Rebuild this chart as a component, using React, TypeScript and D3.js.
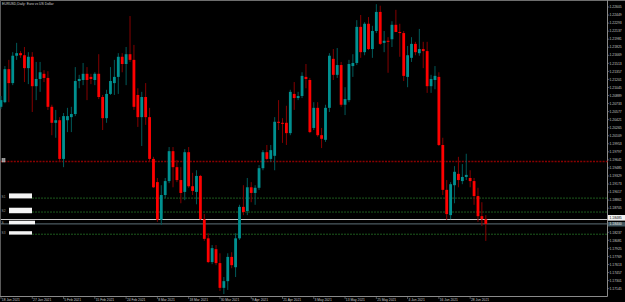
import React from 'react';
import * as d3 from 'd3';

const TITLE = 'EURUSD,Daily: Euro vs US Dollar';

const OPEN = [
  1.2067, 1.2076, 1.2140, 1.2113, 1.2166, 1.2171, 1.2167, 1.2142, 1.2164, 1.2107,
  1.2121, 1.2131, 1.2123, 1.2067, 1.2036, 1.2041, 1.1966, 1.2041, 1.2047, 1.2053,
  1.2117, 1.2119, 1.2131, 1.2125, 1.2119, 1.2131, 1.2086, 1.2045, 1.2092, 1.2113,
  1.2125, 1.2164, 1.2150, 1.2169, 1.2158, 1.2090, 1.2047, 1.2086, 1.2047, 1.1966,
  1.1921, 1.1848, 1.1896, 1.1923, 1.1981, 1.1950, 1.1925, 1.1902, 1.1979, 1.1913,
  1.1902, 1.1933, 1.1849, 1.1812, 1.1766, 1.1791, 1.1764, 1.1716, 1.1729, 1.1776,
  1.1756, 1.1812, 1.1873, 1.1865, 1.1911, 1.1900, 1.1910, 1.1948, 1.1979, 1.1966,
  1.1972, 1.2038, 1.2036, 1.2036, 1.2016, 1.2092, 1.2084, 1.2088, 1.2125, 1.2119,
  1.2026, 1.2065, 1.2012, 1.2003, 1.2065, 1.2160, 1.2129, 1.2148, 1.2071, 1.2080,
  1.2146, 1.2152, 1.2222, 1.2173, 1.2228, 1.2179, 1.2214, 1.2251, 1.2191, 1.2195,
  1.2198, 1.2226, 1.2212, 1.2210, 1.2125, 1.2162, 1.2189, 1.2171, 1.2179, 1.2175,
  1.2107, 1.2119, 1.2125, 1.1993, 1.1906, 1.1857, 1.1915, 1.1937, 1.1923, 1.1931,
  1.1929, 1.1923, 1.1894, 1.1855, 1.1849,
];
const HIGH = [
  1.2088, 1.2146, 1.2158, 1.2173, 1.2191, 1.2175, 1.2183, 1.2173, 1.2173, 1.2154,
  1.2154, 1.2138, 1.2136, 1.2071, 1.2061, 1.2047, 1.2055, 1.2065, 1.2067, 1.2144,
  1.2129, 1.2152, 1.2144, 1.2131, 1.2134, 1.2169, 1.2090, 1.2100, 1.2144, 1.2158,
  1.2171, 1.2171, 1.2183, 1.2243, 1.2187, 1.2103, 1.2096, 1.2113, 1.2065, 1.1970,
  1.1929, 1.1915, 1.1929, 1.1989, 1.1989, 1.1964, 1.1950, 1.1985, 1.1989, 1.1939,
  1.1944, 1.1935, 1.1859, 1.1822, 1.1799, 1.1799, 1.1783, 1.1737, 1.1783, 1.1785,
  1.1822, 1.1877, 1.1915, 1.1929, 1.1921, 1.1915, 1.1954, 1.1983, 1.1993, 1.1993,
  1.2047, 1.2080, 1.2045, 1.2069, 1.2100, 1.2115, 1.2096, 1.2134, 1.2150, 1.2123,
  1.2076, 1.2076, 1.2026, 1.2071, 1.2171, 1.2179, 1.2181, 1.2154, 1.2105, 1.2158,
  1.2169, 1.2235, 1.2245, 1.2231, 1.2241, 1.2224, 1.2266, 1.2263, 1.2214, 1.2202,
  1.2233, 1.2255, 1.2228, 1.2214, 1.2185, 1.2202, 1.2193, 1.2218, 1.2193, 1.2193,
  1.2129, 1.2146, 1.2134, 1.2007, 1.1925, 1.1921, 1.1952, 1.1970, 1.1956, 1.1976,
  1.1944, 1.1929, 1.1910, 1.1882, 1.1857,
];
const LOW = [
  1.2063, 1.2074, 1.2076, 1.2109, 1.2158, 1.2162, 1.2115, 1.2111, 1.2057, 1.2080,
  1.2096, 1.2115, 1.2061, 1.2012, 1.2007, 1.1960, 1.1950, 1.2018, 1.2018, 1.2049,
  1.2103, 1.2109, 1.2080, 1.2111, 1.2109, 1.2082, 1.2022, 1.2036, 1.2090, 1.2090,
  1.2092, 1.2134, 1.2109, 1.2154, 1.2061, 1.2028, 1.1991, 1.2032, 1.1960, 1.1910,
  1.1844, 1.1838, 1.1890, 1.1919, 1.1911, 1.1921, 1.1880, 1.1886, 1.1910, 1.1896,
  1.1878, 1.1848, 1.1807, 1.1764, 1.1762, 1.1760, 1.1710, 1.1704, 1.1712, 1.1754,
  1.1737, 1.1809, 1.1857, 1.1857, 1.1882, 1.1877, 1.1906, 1.1944, 1.1964, 1.1960,
  1.1944, 1.2022, 1.1997, 1.1993, 1.2012, 1.2061, 1.2080, 1.2084, 1.2103, 1.2016,
  1.2022, 1.2009, 1.1987, 1.1999, 1.2057, 1.2119, 1.2123, 1.2067, 1.2051, 1.2076,
  1.2125, 1.2148, 1.2162, 1.2167, 1.2177, 1.2162, 1.2210, 1.2187, 1.2173, 1.2133,
  1.2183, 1.2212, 1.2164, 1.2117, 1.2105, 1.2154, 1.2167, 1.2166, 1.2142, 1.2094,
  1.2094, 1.2101, 1.1991, 1.1896, 1.1848, 1.1849, 1.1880, 1.1911, 1.1917, 1.1925,
  1.1911, 1.1877, 1.1844, 1.1836, 1.1807,
];
const CLOSE = [
  1.2080, 1.2140, 1.2113, 1.2166, 1.2171, 1.2167, 1.2142, 1.2164, 1.2107, 1.2121,
  1.2134, 1.2123, 1.2067, 1.2036, 1.2041, 1.1966, 1.2049, 1.2049, 1.2053, 1.2117,
  1.2121, 1.2131, 1.2119, 1.2121, 1.2131, 1.2086, 1.2045, 1.2092, 1.2117, 1.2125,
  1.2164, 1.2150, 1.2169, 1.2158, 1.2067, 1.2047, 1.2086, 1.2047, 1.1966, 1.1911,
  1.1848, 1.1896, 1.1923, 1.1981, 1.1950, 1.1925, 1.1900, 1.1979, 1.1913, 1.1904,
  1.1933, 1.1849, 1.1811, 1.1766, 1.1793, 1.1764, 1.1716, 1.1729, 1.1776, 1.1760,
  1.1812, 1.1873, 1.1863, 1.1911, 1.1900, 1.1910, 1.1948, 1.1979, 1.1966, 1.1983,
  1.2038, 1.2036, 1.2034, 1.2016, 1.2096, 1.2084, 1.2088, 1.2127, 1.2121, 1.2018,
  1.2065, 1.2012, 1.2005, 1.2065, 1.2166, 1.2129, 1.2148, 1.2071, 1.2082, 1.2150,
  1.2152, 1.2222, 1.2173, 1.2228, 1.2179, 1.2214, 1.2251, 1.2189, 1.2195, 1.2193,
  1.2226, 1.2212, 1.2210, 1.2127, 1.2167, 1.2189, 1.2173, 1.2179, 1.2175, 1.2107,
  1.2121, 1.2127, 1.1993, 1.1906, 1.1859, 1.1917, 1.1941, 1.1925, 1.1931, 1.1935,
  1.1923, 1.1894, 1.1855, 1.1849, 1.1840,
];

const DATE_LABELS = [
  '18 Jan 2021', '27 Jan 2021', '5 Feb 2021', '15 Feb 2021', '24 Feb 2021', '8 Mar 2021',
  '18 Mar 2021', '30 Mar 2021', '9 Apr 2021', '21 Apr 2021', '3 May 2021', '13 May 2021',
  '25 May 2021', '4 Jun 2021', '16 Jun 2021', '28 Jun 2021',
];
const DATE_INDEX = [0, 8, 16, 24, 32, 40, 48, 56, 64, 72, 80, 88, 96, 104, 112, 120];

const PRICE_TICKS = [
  1.22605, 1.22449, 1.22293, 1.22137, 1.21981, 1.21825, 1.21669, 1.21513, 1.21357,
  1.21201, 1.21045, 1.20889, 1.20733, 1.20577, 1.20421, 1.20265, 1.20109, 1.19953,
  1.19797, 1.19641, 1.19485, 1.19329, 1.19173, 1.19017, 1.18861, 1.18705, 1.18549,
  1.18393, 1.18237, 1.18081, 1.17925, 1.17769, 1.17613, 1.17457, 1.17301, 1.17145,
];

const PIVOT = 1.1961;
const SUPPORT_LEVELS = [1.189, 1.1863, 1.182];
const SUPPORT_NAMES = ['S1', 'S2', 'S3'];
const MARKED_LEVEL = 1.18485;
const MARKED_NAME = 'S';

const FONT = '"Liberation Sans", Arial, sans-serif';

export default function App() {
  const W = 625;
  const H = 302;
  const plotRight = 607.5;
  const plotBottom = 296.5;
  const n = OPEN.length;
  const x = d3.scaleLinear().domain([0, n - 1]).range([1, 485.8]);
  const y = d3.scaleLinear().domain([1.17002, 1.22741]).range([296, 0]);
  const bodyW = 2.8;
  const bid = CLOSE[n - 1];

  const candles = d3.range(n).map((i) => {
    const up = CLOSE[i] >= OPEN[i];
    const top = y(Math.max(OPEN[i], CLOSE[i]));
    const bot = y(Math.min(OPEN[i], CLOSE[i]));
    const cx = x(i);
    return (
      <g key={i}>
        <line x1={cx} x2={cx} y1={y(HIGH[i])} y2={y(LOW[i])}
          stroke={up ? '#005a5a' : '#850000'} strokeWidth={1} />
        <rect x={cx - bodyW / 2} y={top} width={bodyW} height={Math.max(1, bot - top)}
          fill={up ? '#009090' : '#ff0000'} />
      </g>
    );
  });

  const leftBoxes = [
    { level: SUPPORT_LEVELS[0], name: SUPPORT_NAMES[0], dy: -4.7, w: 23, h: 5 },
    { level: SUPPORT_LEVELS[1], name: SUPPORT_NAMES[1], dy: -4.3, w: 23, h: 5.5 },
    { level: MARKED_LEVEL, name: MARKED_NAME, dy: 1.2, w: 26, h: 3.6 },
    { level: SUPPORT_LEVELS[2], name: SUPPORT_NAMES[2], dy: -3, w: 23, h: 3.4 },
  ];

  const visibleTicks = PRICE_TICKS.filter(
    (v) => Math.abs(y(v) - y(MARKED_LEVEL)) > 4.5 && Math.abs(y(v) - y(bid)) > 4
  );

  return (
    <svg width={W} height={H} style={{ position: 'absolute', left: 0, top: 0, display: 'block', background: '#000' }}>
      <rect x={0} y={0} width={W} height={H} fill="#000" />
      {/* frame */}
      <line x1={0} x2={W} y1={0.5} y2={0.5} stroke="#6e6e6e" strokeWidth={1} />
      <line x1={0.5} x2={0.5} y1={0} y2={plotBottom} stroke="#5a5a5a" strokeWidth={1} />
      <line x1={0} x2={plotRight} y1={plotBottom} y2={plotBottom} stroke="#8a8a8a" strokeWidth={1} />
      <line x1={plotRight} x2={plotRight} y1={0} y2={plotBottom} stroke="#8a8a8a" strokeWidth={1} />

      {/* level lines */}
      <line x1={1} x2={plotRight} y1={y(PIVOT)} y2={y(PIVOT)} stroke="#8a0000" strokeWidth={1.3} strokeDasharray="2,1.2" />
      <rect x={2} y={y(PIVOT) - 3} width={3} height={3.5} fill="#8a8a8a" stroke="#cfcfcf" strokeWidth={0.5} />
      {SUPPORT_LEVELS.map((v, i) => (
        <line key={'s' + i} x1={32} x2={plotRight} y1={y(v)} y2={y(v)} stroke="#1d5a1d" strokeWidth={1} strokeDasharray="2,1" />
      ))}
      <line x1={1} x2={plotRight} y1={y(MARKED_LEVEL)} y2={y(MARKED_LEVEL)} stroke="#c8c8c8" strokeWidth={1.2} />
      <line x1={1} x2={plotRight} y1={y(bid)} y2={y(bid)} stroke="#5f7078" strokeWidth={1} />

      {candles}

      {/* left level labels */}
      {leftBoxes.map((b, i) => (
        <g key={'lb' + i}>
          <text x={1.5} y={y(b.level) + b.dy + b.h - 0.8} fontSize={3.2} fill="#9a9a9a" fontFamily={FONT}>{b.name}</text>
          <rect x={9} y={y(b.level) + b.dy} width={b.w} height={b.h} fill="#f4f4f4" />
        </g>
      ))}

      {/* title */}
      <text x={2} y={4.6} fontSize={3.4} fill="#d0d0d0" fontFamily={FONT}>{TITLE}</text>

      {/* price axis */}
      {visibleTicks.map((v, i) => (
        <g key={'pt' + i}>
          <line x1={plotRight} x2={plotRight + 1.8} y1={y(v)} y2={y(v)} stroke="#8a8a8a" strokeWidth={0.6} />
          <text x={609.5} y={y(v) + 1.2} fontSize={3.4} fill="#c8c8c8" fontFamily={FONT}>{v.toFixed(5)}</text>
        </g>
      ))}
      <rect x={608} y={y(MARKED_LEVEL) - 4.5} width={17} height={5.6} fill="#f2f2f2" />
      <text x={609.5} y={y(MARKED_LEVEL) - 0.5} fontSize={3.4} fill="#000" fontFamily={FONT}>{MARKED_LEVEL.toFixed(5)}</text>
      <rect x={608} y={y(bid) - 1.8} width={17} height={4.4} fill="#435962" />
      <text x={609.5} y={y(bid) + 1.5} fontSize={3.4} fill="#e8e8e8" fontFamily={FONT}>{bid.toFixed(5)}</text>

      {/* date axis */}
      {DATE_INDEX.map((k, i) => (
        <g key={'d' + i}>
          <line x1={x(k)} x2={x(k)} y1={plotBottom} y2={plotBottom + 2.5} stroke="#8a8a8a" strokeWidth={0.6} />
          <text x={x(k) + 0.8} y={300.6} fontSize={3.3} fill="#c8c8c8" fontFamily={FONT}>{DATE_LABELS[i]}</text>
        </g>
      ))}
    </svg>
  );
}
